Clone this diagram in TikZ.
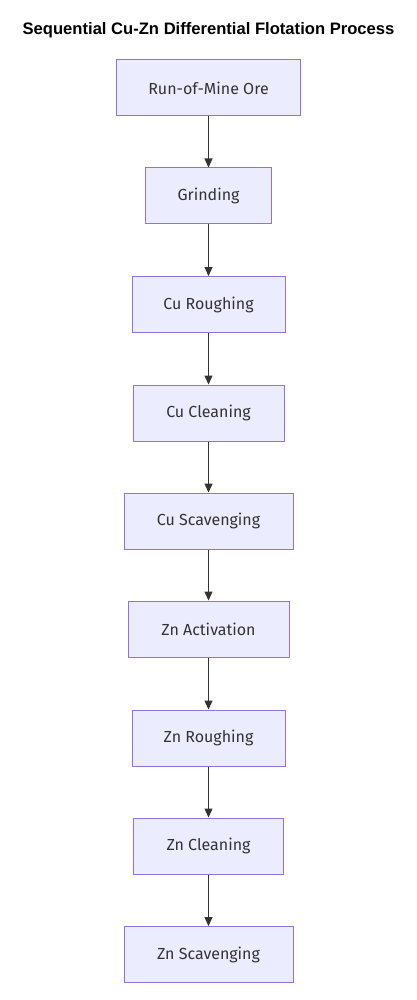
\documentclass[tikz,border=0pt]{standalone}
\usepackage{fontspec}
\setmainfont{Fira Sans}
\newfontfamily\titlefont{Liberation Sans}
\usetikzlibrary{arrows.meta}
\definecolor{nodefill}{HTML}{ECECFF}
\definecolor{nodeline}{HTML}{9370DB}
\definecolor{edgecol}{HTML}{333333}
\begin{document}
\begin{tikzpicture}[x=1pt,y=-1pt,
  procbox/.style={draw=nodeline, fill=nodefill, line width=1pt, minimum height=56pt,
    inner sep=0pt, font=\fontsize{16}{19}\selectfont, text=edgecol},
  flow/.style={draw=edgecol, line width=1.2pt, -{Triangle[length=9pt,width=8pt]}}]
\useasboundingbox (0,0) rectangle (416,1000);
\node[font=\titlefont\bfseries\fontsize{16.6}{19}\selectfont] (title) at (208.5,30) {Sequential Cu-Zn Differential Flotation Process};
\node[procbox, minimum width=184pt] (n1) at (208.5,88) {Run-of-Mine Ore};
\node[procbox, minimum width=126pt] (n2) at (208.5,196) {Grinding};
\node[procbox, minimum width=153pt] (n3) at (208.5,304.5) {Cu Roughing};
\node[procbox, minimum width=151pt] (n4) at (208.5,413) {Cu Cleaning};
\node[procbox, minimum width=169pt] (n5) at (208.5,521) {Cu Scavenging};
\node[procbox, minimum width=161pt] (n6) at (208.5,629) {Zn Activation};
\node[procbox, minimum width=153pt] (n7) at (208.5,738) {Zn Roughing};
\node[procbox, minimum width=150pt] (n8) at (208.5,846) {Zn Cleaning};
\node[procbox, minimum width=169pt] (n9) at (208.5,954.5) {Zn Scavenging};
\foreach \a/\b in {n1/n2,n2/n3,n3/n4,n4/n5,n5/n6,n6/n7,n7/n8,n8/n9}
  \draw[flow] (\a) -- (\b);
\end{tikzpicture}
\end{document}
